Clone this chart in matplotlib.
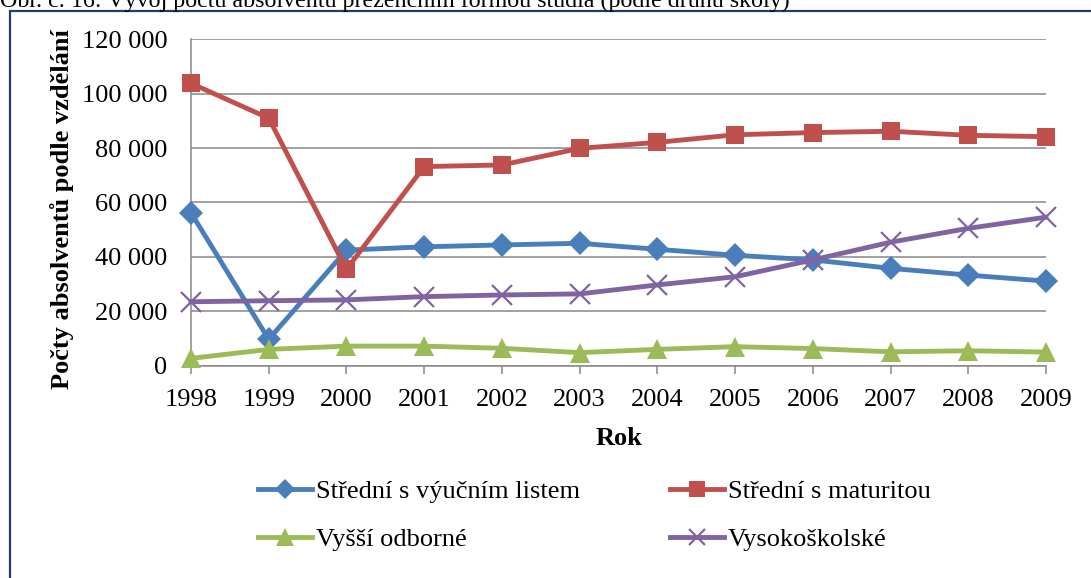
import matplotlib
matplotlib.use("Agg")
import matplotlib.pyplot as plt
from matplotlib.patches import Rectangle
from matplotlib.ticker import FuncFormatter, MultipleLocator

plt.rcParams['font.family'] = ['Liberation Serif', 'DejaVu Serif']

years = [1998, 1999, 2000, 2001, 2002, 2003, 2004, 2005, 2006, 2007, 2008, 2009]
vyucni = [56200, 9700, 42500, 43700, 44400, 45000, 42800, 40600, 38900, 35800, 33300, 31100]
maturita = [103800, 91000, 35400, 73200, 73800, 79900, 82100, 84900, 85700, 86200, 84700, 84200]
vyssi = [2700, 6000, 7200, 7200, 6400, 4800, 6000, 7000, 6300, 5100, 5500, 5000]
vysoko = [23500, 23900, 24200, 25400, 26000, 26400, 29700, 32700, 38900, 45400, 50500, 54600]
labels = ["Střední s výučním listem", "Střední s maturitou", "Vyšší odborné", "Vysokoškolské"]
title = "Obr. č. 16: Vývoj počtu absolventů prezenčním formou studia (podle druhu školy)"
xlabel = "Rok"
ylabel = "Počty absolventů podle vzdělání"

W, H = 1091, 578
fig = plt.figure(figsize=(W / 100, H / 100), dpi=100)

def fx(px):
    return px / W

def fy(py):
    return 1 - py / H

# frame box
fig.patches.append(Rectangle((fx(9.5), fy(590)), fx(1100), fy(10.5) - fy(590),
                             transform=fig.transFigure, fill=False,
                             edgecolor='#243F60', linewidth=1.6))
fig.text(fx(0), fy(6.5), title, fontsize=17.3, ha='left', va='baseline')

ax = fig.add_axes([fx(191), fy(365.7), fx(1046) - fx(191), fy(39.3) - fy(365.7)])
fs = 19
grid_c = '#888888'

series = [
    (vyucni, '#4A7EBB', 'D', 12.5),
    (maturita, '#C0504D', 's', 13.5),
    (vyssi, '#9BBB59', '^', 14.5),
    (vysoko, '#8064A2', 'x', 14),
]
handles = []
for (vals, c, m, ms), lab in zip(series, labels):
    kw = dict(markeredgewidth=1.6) if m == 'x' else dict(markeredgewidth=0)
    h, = ax.plot(years, vals, color=c, linewidth=3.5, marker=m, markersize=ms,
                 markerfacecolor=c, markeredgecolor=c, clip_on=False, zorder=3,
                 label=lab, **kw)
    handles.append(h)

ax.set_xlim(1998, 2009)
ax.set_ylim(0, 120000)
ax.yaxis.set_major_locator(MultipleLocator(20000))
ax.yaxis.set_major_formatter(FuncFormatter(lambda v, p: f"{int(v):,}".replace(",", " ")))
ax.set_xticks(years)
ax.set_xticklabels([str(y) for y in years])
ax.grid(axis='y', color=grid_c, linewidth=1.1)
ax.set_axisbelow(True)
for s in ['top', 'right']:
    ax.spines[s].set_visible(False)
for s in ['left', 'bottom']:
    ax.spines[s].set_color(grid_c)
    ax.spines[s].set_linewidth(1.1)
ax.tick_params(axis='y', length=0, pad=17, labelsize=fs)
ax.tick_params(axis='x', length=6, width=1.1, color=grid_c, direction='out', pad=11, labelsize=fs)

fig.text(fx(618.5), fy(438.5), xlabel, fontsize=fs, fontweight='bold', ha='center', va='center')
fig.text(fx(62), fy(209), ylabel, fontsize=fs, fontweight='bold', ha='center', va='center',
         rotation=90)

order = [handles[0], handles[2], handles[1], handles[3]]
leg = fig.legend(order, [h.get_label() for h in order], ncol=2, loc='upper left',
                 bbox_to_anchor=(fx(258), fy(480)), frameon=False, fontsize=fs,
                 handlelength=2.05, handletextpad=0.15, columnspacing=3.39,
                 labelspacing=0.92, borderpad=0, borderaxespad=0, markerscale=0.85)

fig.savefig("out.png", dpi=100)
